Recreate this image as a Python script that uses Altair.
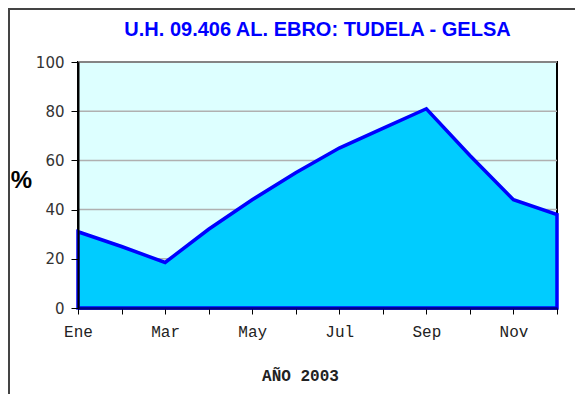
import altair as alt
import pandas as pd

MONTHS = ["Ene", "Feb", "Mar", "Abr", "May", "Jun", "Jul", "Ago", "Sep", "Oct", "Nov", "Dic"]
VALUES = [31, 25, 18.5, 32, 44, 55, 65, 73, 81, 62, 44, 38]
Y_TICKS = [0, 20, 40, 60, 80, 100]
SHOWN = MONTHS[::2]

df = pd.DataFrame({"mes": MONTHS, "pct": VALUES})
grid_df = pd.DataFrame({"v": Y_TICKS[1:]})

label_expr = "indexof([" + ",".join("'%s'" % m for m in SHOWN) + "], datum.value) >= 0 ? datum.label : ''"

x_enc = alt.X(
    "mes:O", sort=MONTHS,
    scale=alt.Scale(type="point", padding=0),
    axis=alt.Axis(
        title="AÑO 2003", labelAngle=0, labelExpr=label_expr,
        labelFont="Liberation Mono", labelFontSize=16, labelColor="#222",
        labelPadding=9, tickSize=6, tickColor="#000", tickWidth=1,
        domainColor="#000080", domainWidth=2.5,
        titleFont="Liberation Mono", titleFontSize=16, titleFontWeight="bold",
        titleColor="#222", titlePadding=28, titleX=222, zindex=1,
        grid=False,
    ),
)
y_scale = alt.Scale(domain=[0, 100], nice=False)

frame = alt.Chart(alt.Data(values=[{}])).mark_rect(
    fillOpacity=0, stroke="#444", strokeWidth=2
).encode(
    x=alt.value(-69), x2=alt.value(700), y=alt.value(-53), y2=alt.value(500)
)

grid = alt.Chart(grid_df).mark_rule(color="#B0B0B0", strokeWidth=1.5).encode(
    y=alt.Y("v:Q", scale=y_scale)
)

area = alt.Chart(df).mark_area(
    fill="#00CCFF", stroke="#0000FF", strokeWidth=3.5, strokeJoin="miter", opacity=1
).encode(
    x=x_enc,
    y=alt.Y(
        "pct:Q", scale=y_scale,
        axis=alt.Axis(
            title="%", values=Y_TICKS, grid=False,
            labelFont="DejaVu Sans", labelFontSize=15, labelColor="#333",
            labelPadding=7, tickSize=7, tickColor="#000",
            domainColor="#000", domainWidth=2,
            titleFont="Liberation Sans", titleFontSize=24, titleFontWeight="bold",
            titleColor="#000", titleAngle=0, titleX=-57, titleY=118,
            titleAlign="center", titleBaseline="middle", zindex=1,
        ),
    ),
)

chart = alt.layer(grid, area, frame).properties(
    width=479, height=246,
    background="white",
    autosize=alt.AutoSizeParams(type="none"),
    padding={"left": 70, "top": 54, "right": 18, "bottom": 86},
    title=alt.Title(
        "U.H. 09.406 AL. EBRO: TUDELA - GELSA",
        font="Liberation Sans", fontSize=20, fontWeight="bold",
        color="#0000FF", anchor="middle", offset=-32, frame="group",
    ),
).configure_view(
    fill="#DDFFFF", stroke="#000", strokeWidth=2
)

chart.save("out.html", embed_options={"renderer": "svg", "actions": False})
